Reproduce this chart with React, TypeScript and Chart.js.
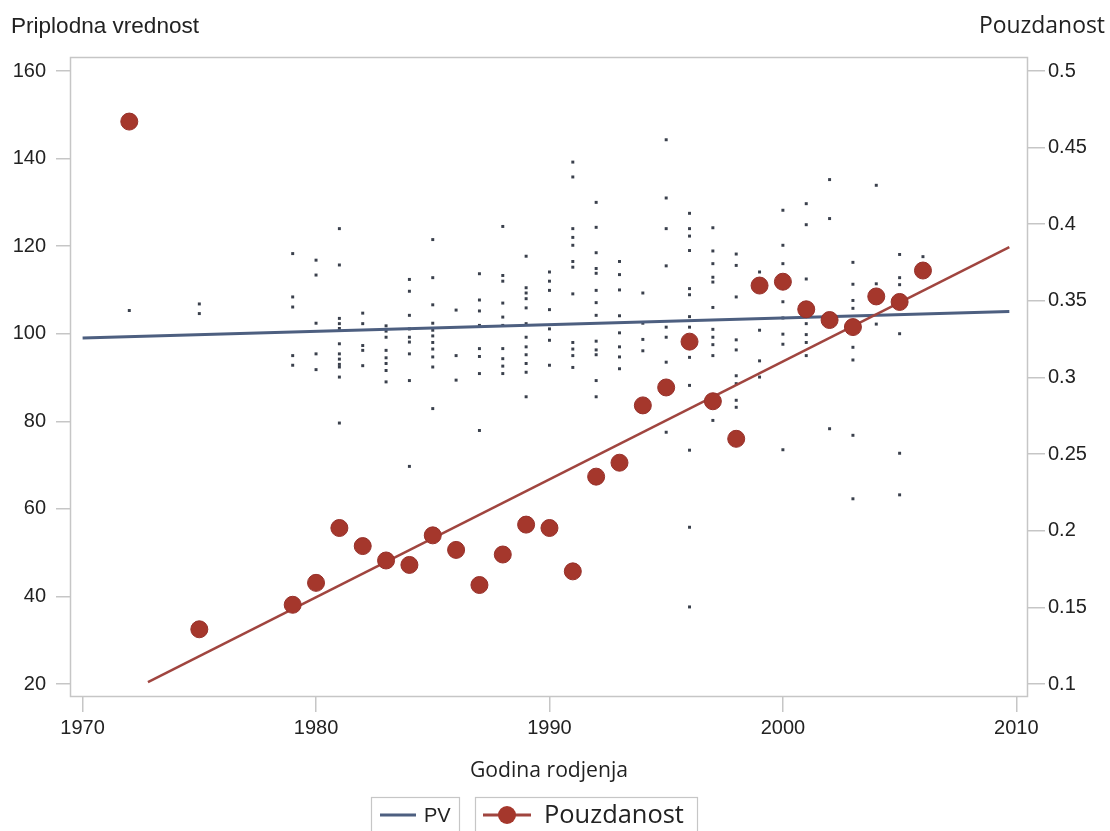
import React, { useEffect, useRef } from 'react';
import { Chart, registerables } from 'chart.js';

Chart.register(...registerables);

// ---------- axis ticks ----------
const xTickValues = [1970, 1980, 1990, 2000, 2010];
const pvTickValues = [20, 40, 60, 80, 100, 120, 140, 160];
const relTickValues = [0.1, 0.15, 0.2, 0.25, 0.3, 0.35, 0.4, 0.45, 0.5];

// ---------- titles / legend ----------
const leftTitle = 'Priplodna vrednost';
const rightTitle = 'Pouzdanost';
const xTitle = 'Godina rodjenja';
const pvLabel = 'PV';
const relLabel = 'Pouzdanost';

// ---------- Pouzdanost (reliability) per birth year ----------
const relYears = [
  1972, 1975, 1979, 1980, 1981, 1982, 1983, 1984, 1985, 1986, 1987, 1988, 1989, 1990,
  1991, 1992, 1993, 1994, 1995, 1996, 1997, 1998, 1999, 2000, 2001, 2002, 2003, 2004,
  2005, 2006,
];
const relValues = [
  0.467, 0.1357, 0.1517, 0.166, 0.2018, 0.19, 0.1806, 0.1777, 0.197, 0.1875, 0.1646,
  0.1845, 0.204, 0.2018, 0.1735, 0.2353, 0.2444, 0.2818, 0.2935, 0.3234, 0.2845, 0.26,
  0.36, 0.3625, 0.3445, 0.3375, 0.3329, 0.3529, 0.3493, 0.3698,
];

// fitted trend lines (end points)
const relFitYears = [1972.8, 2009.7];
const relFitValues = [0.1013, 0.3851];
const pvFitYears = [1970, 2009.7];
const pvFitValues = [99.0, 105.1];

// ---------- individual PV values per birth year ----------
const pvScatterYears = [
  1972, 1975, 1979, 1980, 1981, 1982, 1983, 1984, 1985, 1986, 1987, 1988, 1989, 1990,
  1991, 1992, 1993, 1994, 1995, 1996, 1997, 1998, 1999, 2000, 2001, 2002, 2003, 2004,
  2005, 2006,
];
const pvScatterValues = [
  [105.3],
  [106.8, 104.6],
  [118.3, 108.4, 106.1, 95.0, 92.8],
  [116.8, 113.4, 102.4, 95.4, 91.8],
  [124.0, 115.7, 103.5, 102.3, 101.2, 97.7, 95.4, 94.2, 93.0, 92.4, 90.1, 79.6],
  [104.7, 102.3, 97.3, 96.2, 92.7],
  [101.8, 100.6, 99.2, 96.2, 94.5, 93.2, 91.6, 89.0],
  [112.4, 109.7, 104.2, 101.1, 99.2, 98.1, 95.4, 89.3, 69.7],
  [121.5, 112.8, 106.6, 102.4, 100.8, 99.5, 98.0, 96.5, 94.7, 92.4, 82.9],
  [105.4, 95.0, 89.4],
  [113.7, 107.7, 105.2, 101.9, 96.6, 94.8, 90.9, 77.9],
  [124.5, 113.3, 112.0, 107.0, 103.8, 101.9, 96.6, 94.3, 92.6, 90.9],
  [117.7, 110.5, 109.3, 108.0, 105.9, 102.3, 99.2, 97.0, 95.2, 93.2, 91.2, 85.6],
  [114.1, 112.0, 109.9, 105.5, 101.1, 98.5, 92.8],
  [139.2, 135.8, 124.0, 122.0, 120.2, 116.5, 115.2, 109.1, 98.0, 96.5, 95.0, 92.3],
  [130.0, 124.3, 118.5, 114.9, 113.8, 109.9, 107.1, 104.2, 98.3, 96.3, 95.2, 89.3, 85.6],
  [116.5, 113.5, 110.0, 104.1, 100.2, 97.0, 94.7, 92.0],
  [109.3, 102.4, 98.7, 96.1],
  [144.3, 131.0, 124.0, 115.5, 101.5, 99.2, 93.5, 77.5],
  [127.5, 124.0, 122.3, 119.0, 110.3, 108.9, 103.9, 101.5, 94.6, 88.2, 73.4, 55.8, 37.6],
  [124.2, 118.9, 116.0, 112.9, 111.8, 106.0, 101.0, 99.2, 97.5, 95.0, 80.2],
  [118.2, 115.6, 108.4, 98.6, 96.3, 90.4, 88.6, 84.8, 83.2],
  [114.1, 100.8, 93.8, 90.1],
  [128.2, 120.2, 116.0, 107.3, 103.6, 99.9, 97.6, 73.5],
  [129.7, 124.9, 112.5, 102.3, 99.8, 98.0, 95.0],
  [135.2, 126.3, 78.3],
  [116.3, 111.3, 107.6, 105.8, 96.9, 94.0, 76.8, 62.3],
  [133.9, 111.4, 102.2],
  [118.1, 112.8, 111.2, 100.0, 72.7, 63.2],
  [117.6],
];

// ---------- style constants ----------
const W = 1110;
const H = 831;
const BLUE = '#4d5f80';
const RED_LINE = '#a0453f';
const RED_DOT = '#a5372c';
const DOT_GRAY = '#3a404c';
const FRAME = '#c6c6c6';
const TEXT = '#222222';
const ARIAL = '"Liberation Sans", Arial, sans-serif';
const SEGOE = '"Open Sans", "Noto Sans", sans-serif';

// draw text scaled so that it spans a given width (fonts differ from the original)
function fitText(ctx: CanvasRenderingContext2D, text: string, family: string, width: number, x: number, y: number) {
  ctx.font = `20px ${family}`;
  const w = ctx.measureText(text).width;
  const size = (20 * width) / w;
  ctx.font = `${size.toFixed(2)}px ${family}`;
  ctx.fillText(text, x, y);
}

const decorPlugin = {
  id: 'decor',
  beforeDatasetsDraw(chart: any) {
    const { ctx, chartArea: a } = chart;
    ctx.save();
    ctx.strokeStyle = FRAME;
    ctx.lineWidth = 1.5;
    ctx.strokeRect(a.left + 0.5, a.top + 0.5, a.right - a.left - 1, a.bottom - a.top - 1);
    ctx.restore();
  },
  afterDraw(chart: any) {
    const { ctx, chartArea: a } = chart;
    ctx.save();
    ctx.fillStyle = TEXT;
    ctx.textBaseline = 'alphabetic';
    // axis titles on top
    ctx.textAlign = 'left';
    fitText(ctx, leftTitle, ARIAL, 188, 11, 33);
    ctx.textAlign = 'right';
    fitText(ctx, rightTitle, SEGOE, 126, 1105, 33);
    // x title
    ctx.textAlign = 'center';
    fitText(ctx, xTitle, SEGOE, 158, (a.left + a.right) / 2, 777);

    // legend
    ctx.strokeStyle = FRAME;
    ctx.lineWidth = 1.2;
    ctx.strokeRect(371.5, 797.5, 88, 50);
    ctx.strokeRect(475.5, 797.5, 222, 50);
    ctx.strokeStyle = BLUE;
    ctx.lineWidth = 3;
    ctx.beginPath();
    ctx.moveTo(380, 815);
    ctx.lineTo(416, 815);
    ctx.stroke();
    ctx.fillStyle = TEXT;
    ctx.textAlign = 'left';
    ctx.font = `20px ${ARIAL}`;
    ctx.fillText(pvLabel, 424, 822);

    ctx.strokeStyle = RED_LINE;
    ctx.beginPath();
    ctx.moveTo(483, 815);
    ctx.lineTo(531, 815);
    ctx.stroke();
    ctx.fillStyle = RED_DOT;
    ctx.beginPath();
    ctx.arc(507, 815, 9, 0, Math.PI * 2);
    ctx.fill();
    ctx.fillStyle = TEXT;
    fitText(ctx, relLabel, SEGOE, 140, 544, 823);
    ctx.restore();
  },
};

export default function App() {
  const ref = useRef<HTMLCanvasElement | null>(null);

  useEffect(() => {
    if (!ref.current) return;

    const scatterPoints: { x: number; y: number }[] = [];
    pvScatterYears.forEach((yr, i) => {
      pvScatterValues[i].forEach((v) => scatterPoints.push({ x: yr, y: v }));
    });

    const tickFont = { family: ARIAL, size: 20 };

    const chart = new Chart(ref.current, {
      type: 'scatter',
      data: {
        datasets: [
          {
            label: 'PV data',
            data: scatterPoints,
            yAxisID: 'y',
            pointStyle: 'rect',
            pointRadius: 2.1,
            pointBorderWidth: 0,
            backgroundColor: DOT_GRAY,
            borderColor: DOT_GRAY,
            order: 4,
          },
          {
            label: pvLabel,
            type: 'line',
            data: pvFitYears.map((x, i) => ({ x, y: pvFitValues[i] })),
            yAxisID: 'y',
            borderColor: BLUE,
            borderWidth: 3,
            pointRadius: 0,
            fill: false,
            order: 3,
          },
          {
            label: 'Pouzdanost trend',
            type: 'line',
            data: relFitYears.map((x, i) => ({ x, y: relFitValues[i] })),
            yAxisID: 'y1',
            borderColor: RED_LINE,
            borderWidth: 2.5,
            pointRadius: 0,
            fill: false,
            order: 2,
          },
          {
            label: relLabel,
            data: relYears.map((x, i) => ({ x, y: relValues[i] })),
            yAxisID: 'y1',
            pointStyle: 'circle',
            pointRadius: 8.5,
            backgroundColor: RED_DOT,
            borderColor: '#96302a',
            borderWidth: 1,
            order: 1,
          },
        ],
      },
      options: {
        responsive: false,
        devicePixelRatio: 1,
        animation: false,
        layout: { padding: { top: 57, left: 0, right: 0, bottom: 0 } },
        plugins: {
          legend: { display: false },
          tooltip: { enabled: false },
          title: { display: false },
        },
        scales: {
          x: {
            type: 'linear',
            position: 'bottom',
            min: 1969.46,
            max: 2010.5,
            afterBuildTicks: (s: any) => {
              s.ticks = xTickValues.map((v) => ({ value: v }));
            },
            afterFit: (s: any) => {
              s.height = H - 697;
            },
            grid: {
              drawOnChartArea: false,
              drawTicks: true,
              tickLength: 15,
              color: FRAME,
              lineWidth: 1.5,
            },
            border: { display: false },
            ticks: {
              color: TEXT,
              font: tickFont,
              padding: 4,
              maxRotation: 0,
              callback: (v: any) => String(v),
            },
          },
          y: {
            type: 'linear',
            position: 'left',
            min: 17.03,
            max: 163.2,
            afterBuildTicks: (s: any) => {
              s.ticks = pvTickValues.map((v) => ({ value: v }));
            },
            afterFit: (s: any) => {
              s.width = 70;
            },
            grid: {
              drawOnChartArea: false,
              drawTicks: true,
              tickLength: 14,
              color: FRAME,
              lineWidth: 1.5,
            },
            border: { display: false },
            ticks: {
              color: TEXT,
              font: tickFont,
              padding: 10,
              callback: (v: any) => String(v),
            },
          },
          y1: {
            type: 'linear',
            position: 'right',
            min: 0.09152,
            max: 0.50913,
            afterBuildTicks: (s: any) => {
              s.ticks = relTickValues.map((v) => ({ value: v }));
            },
            afterFit: (s: any) => {
              s.width = W - 1028;
            },
            grid: {
              drawOnChartArea: false,
              drawTicks: true,
              tickLength: 17,
              color: FRAME,
              lineWidth: 1.5,
            },
            border: { display: false },
            ticks: {
              color: TEXT,
              font: tickFont,
              padding: 3,
              callback: (v: any) => String(v),
            },
          },
        },
      },
      plugins: [decorPlugin],
    });

    return () => chart.destroy();
  }, []);

  return (
    <div style={{ position: 'fixed', left: 0, top: 0, width: W, height: H, background: '#ffffff' }}>
      <canvas ref={ref} width={W} height={H} style={{ display: 'block', width: W, height: H }} />
    </div>
  );
}
